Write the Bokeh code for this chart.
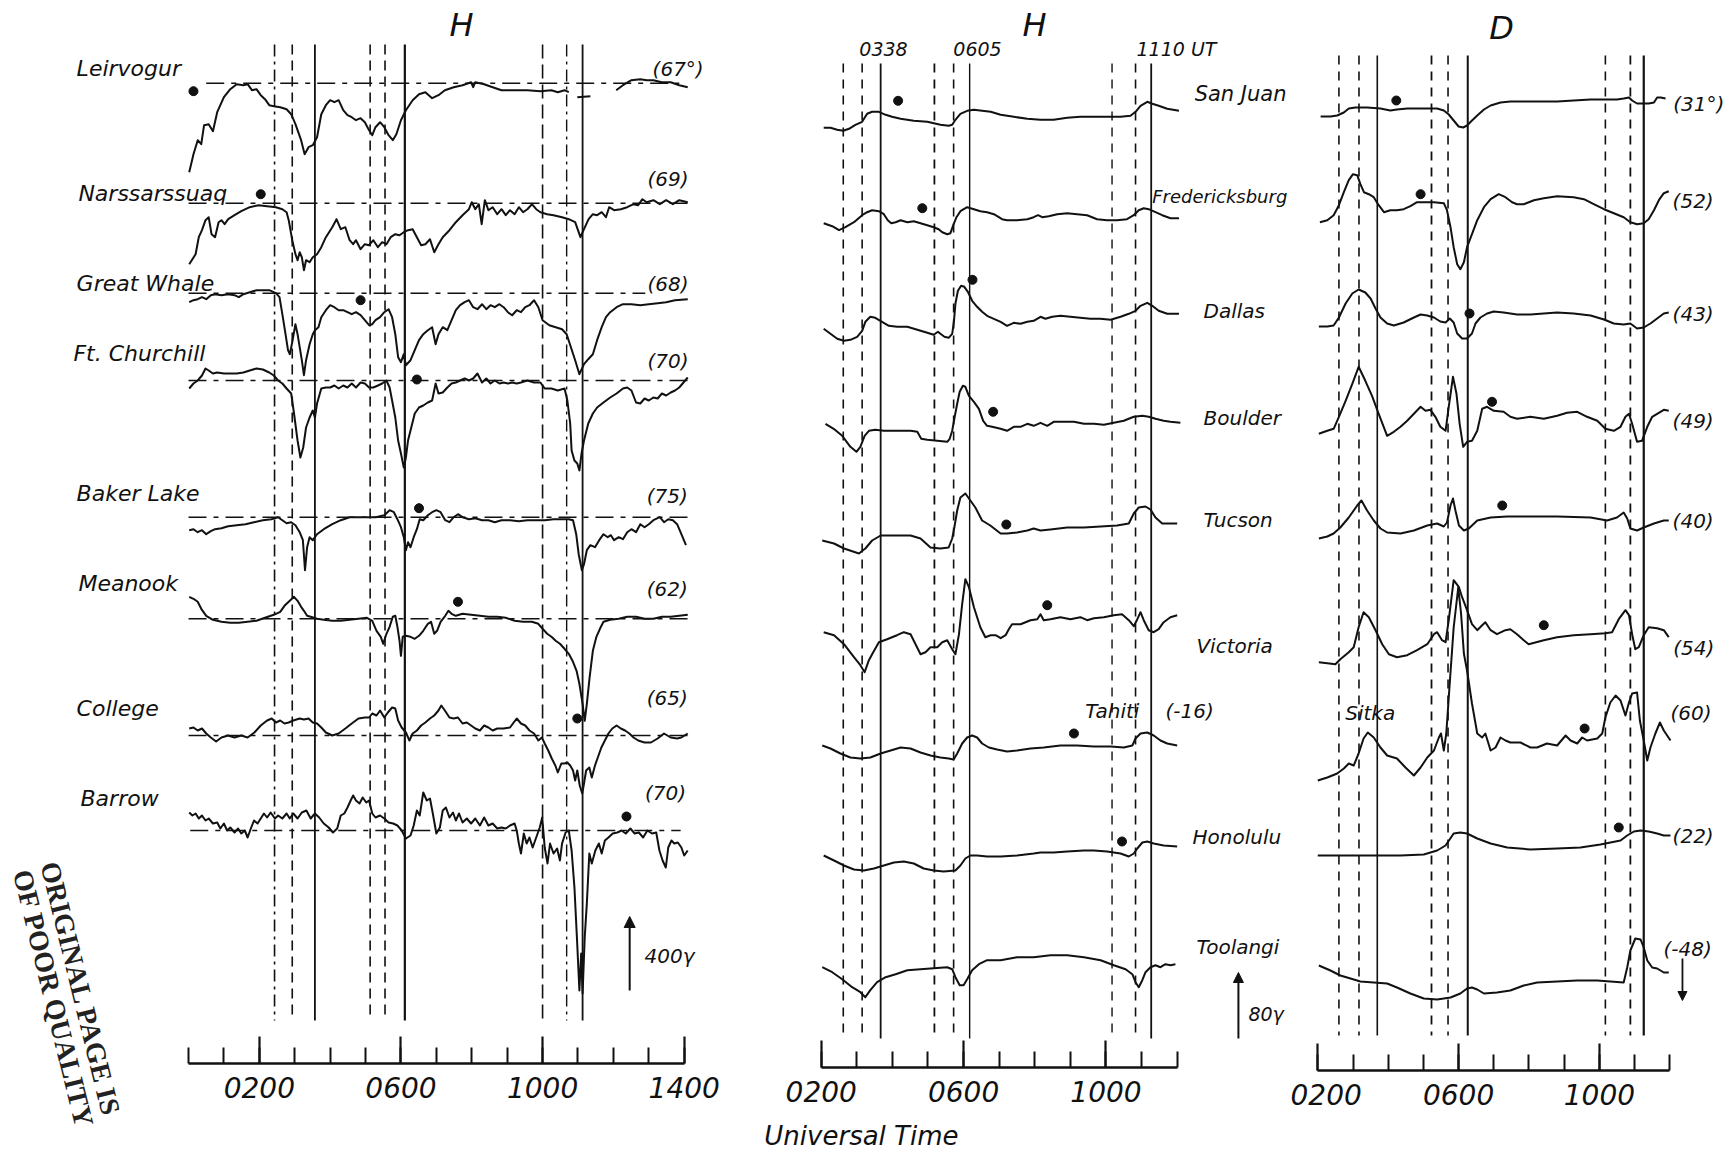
import math
from bokeh.plotting import figure
from bokeh.layouts import row
from bokeh.models import Range1d, FixedTicker, Arrow, NormalHead
from bokeh.core.properties import value
from bokeh.embed import file_html
from bokeh.resources import INLINE

NaN = float("nan")

# ---------------- DATA: (UT hours, deflection) ----------------
# Left panel, H component, high-latitude stations
leirvogur = [(0.02,-89),(0.14,-71),(0.26,-57),(0.36,-61),(0.44,-42),(0.57,-41),(0.69,-48),(0.81,-29),(1.0,-14),(1.18,-6),(1.36,-1),(1.55,-2),(1.67,-1),(1.79,-7),(1.92,-6),(2.04,-12),(2.16,-16),(2.28,-22),(2.41,-23),(2.59,-24),(2.77,-26),(2.9,-31),(3.02,-41),(3.18,-57),(3.28,-71),(3.39,-64),(3.51,-62),(3.63,-54),(3.75,-31),(3.88,-22),(4.0,-17),(4.12,-19),(4.24,-17),(4.37,-27),(4.49,-32),(4.61,-34),(4.73,-37),(4.86,-35),(4.98,-39),(5.1,-47),(5.19,-52),(5.28,-44),(5.41,-39),(5.53,-44),(5.65,-52),(5.77,-57),(5.87,-51),(6.0,-37),(6.14,-27),(6.33,-17),(6.51,-11),(6.69,-9),(6.88,-15),(7.06,-12),(7.24,-7),(7.49,-4),(7.74,-2),(7.98,1),(8.04,-4),(8.1,1),(8.35,-1),(8.59,-4),(8.84,-7),(9.21,-7),(9.57,-7),(9.94,-8),(10.25,-7),(10.43,-9),(10.62,-7),(10.74,-9),(NaN,NaN),(10.98,-14),(11.35,-13),(NaN,NaN),(12.08,-7),(12.27,-2),(12.51,3),(12.76,4),(12.94,3),(13.13,3),(13.37,1),(13.62,1),(13.86,-2),(14.1,-4)]
narssarssuaq = [(0.02,-61),(0.11,-56),(0.2,-51),(0.29,-34),(0.38,-27),(0.48,-17),(0.57,-14),(0.65,-31),(0.75,-34),(0.85,-19),(0.93,-17),(1.02,-21),(1.12,-16),(1.3,-12),(1.49,-8),(1.73,-4),(1.98,-2),(2.22,-3),(2.47,-4),(2.65,-6),(2.77,-9),(2.83,-17),(2.93,-37),(3.02,-51),(3.08,-57),(3.14,-49),(3.2,-54),(3.26,-67),(3.32,-57),(3.42,-59),(3.51,-54),(3.63,-51),(3.75,-44),(3.88,-34),(4.06,-24),(4.18,-16),(4.3,-26),(4.43,-24),(4.55,-37),(4.65,-41),(4.73,-37),(4.86,-46),(4.98,-41),(5.1,-42),(5.22,-37),(5.35,-44),(5.47,-39),(5.59,-41),(5.71,-34),(5.84,-31),(5.96,-32),(6.08,-29),(6.2,-27),(6.33,-26),(6.45,-34),(6.57,-42),(6.69,-41),(6.82,-36),(6.94,-49),(7.06,-41),(7.18,-34),(7.37,-27),(7.55,-19),(7.74,-12),(7.92,-6),(8.0,1),(8.1,-6),(8.2,-1),(8.28,-21),(8.37,3),(8.47,-7),(8.59,-4),(8.72,-11),(8.84,-6),(8.96,-12),(9.08,-7),(9.21,-11),(9.33,-4),(9.45,-9),(9.57,-6),(9.7,-1),(9.82,-6),(9.94,-9),(10.13,-11),(10.31,-12),(10.55,-14),(10.74,-16),(10.92,-19),(11.07,-34),(11.17,-26),(11.3,-16),(11.42,-11),(11.54,-12),(11.67,-9),(11.79,-14),(11.88,-4),(12.02,-7),(12.21,-6),(12.39,-4),(12.57,-1),(12.7,-2),(12.82,4),(12.94,1),(13.13,3),(13.31,-1),(13.49,3),(13.68,-1),(13.86,3),(14.1,1)]
great_whale = [(0.02,-9),(0.14,-7),(0.26,-6),(0.38,-4),(0.5,-6),(0.63,-2),(0.75,-1),(0.93,-2),(1.12,-1),(1.3,-2),(1.42,-4),(1.55,-1),(1.73,1),(1.92,3),(2.1,3),(2.28,3),(2.47,0),(2.57,-4),(2.65,-21),(2.74,-41),(2.81,-57),(2.86,-61),(2.93,-49),(3.02,-31),(3.08,-41),(3.14,-54),(3.2,-67),(3.26,-82),(3.32,-67),(3.42,-51),(3.51,-41),(3.57,-37),(3.67,-34),(3.75,-24),(3.88,-17),(4.0,-12),(4.12,-14),(4.24,-17),(4.37,-17),(4.49,-19),(4.61,-21),(4.73,-19),(4.86,-22),(4.98,-27),(5.1,-32),(5.19,-31),(5.28,-27),(5.41,-24),(5.53,-19),(5.65,-16),(5.75,-24),(5.84,-41),(5.92,-64),(6.0,-69),(6.08,-61),(6.14,-72),(6.27,-67),(6.39,-57),(6.51,-47),(6.63,-41),(6.76,-37),(6.88,-34),(6.98,-51),(7.06,-41),(7.18,-34),(7.31,-37),(7.43,-27),(7.55,-17),(7.67,-12),(7.8,-9),(7.92,-7),(8.04,-14),(8.16,-16),(8.29,-11),(8.41,-16),(8.53,-12),(8.65,-14),(8.78,-11),(8.9,-14),(9.02,-19),(9.14,-22),(9.27,-17),(9.39,-19),(9.51,-14),(9.63,-12),(9.76,-7),(9.88,-14),(10.0,-27),(10.19,-32),(10.37,-34),(10.55,-36),(10.68,-41),(10.8,-54),(10.92,-67),(11.04,-81),(11.17,-71),(11.29,-66),(11.42,-61),(11.54,-47),(11.67,-34),(11.79,-24),(11.91,-19),(12.09,-14),(12.27,-11),(12.51,-11),(12.76,-12),(13.0,-11),(13.25,-10),(13.49,-9),(13.74,-7),(14.1,-6)]
ft_churchill = [(0.02,-8),(0.14,-3),(0.26,0),(0.38,5),(0.48,12),(0.57,10),(0.69,7),(0.81,8),(1.0,7),(1.18,7),(1.36,7),(1.55,8),(1.73,10),(1.92,12),(2.1,11),(2.28,8),(2.41,5),(2.53,0),(2.65,-3),(2.77,-8),(2.9,-13),(2.98,-33),(3.08,-60),(3.16,-77),(3.24,-67),(3.32,-47),(3.42,-37),(3.51,-30),(3.57,-37),(3.63,-23),(3.75,-8),(3.88,-7),(4.0,-7),(4.12,-5),(4.24,-8),(4.37,-5),(4.49,-7),(4.61,-3),(4.73,-7),(4.86,-2),(4.98,-3),(5.1,-7),(5.22,-7),(5.35,-5),(5.47,-3),(5.59,0),(5.68,-7),(5.75,-20),(5.84,-37),(5.92,-60),(6.0,-73),(6.08,-87),(6.14,-77),(6.2,-60),(6.27,-50),(6.39,-33),(6.51,-27),(6.63,-25),(6.76,-22),(6.88,-20),(6.98,-3),(7.06,-13),(7.18,-12),(7.31,-7),(7.43,-3),(7.55,-2),(7.67,0),(7.8,2),(7.92,0),(8.04,2),(8.16,7),(8.29,-2),(8.41,2),(8.53,-3),(8.65,0),(8.78,-3),(8.9,-2),(9.02,-3),(9.14,-2),(9.27,-3),(9.39,-2),(9.57,0),(9.76,-2),(9.94,-2),(10.06,-8),(10.25,-8),(10.43,-10),(10.62,-8),(10.7,-20),(10.78,-43),(10.82,-70),(10.9,-80),(10.98,-83),(11.04,-90),(11.1,-73),(11.17,-60),(11.29,-43),(11.42,-33),(11.54,-27),(11.72,-22),(11.91,-17),(12.09,-13),(12.27,-8),(12.39,-7),(12.51,-10),(12.64,-22),(12.76,-23),(12.88,-18),(13.0,-20),(13.13,-17),(13.25,-18),(13.37,-13),(13.49,-15),(13.62,-12),(13.74,-10),(13.86,-7),(14.1,3)]
baker_lake = [(0.02,-13),(0.14,-12),(0.26,-15),(0.38,-13),(0.5,-17),(0.63,-14),(0.75,-12),(0.93,-11),(1.12,-9),(1.36,-8),(1.61,-7),(1.85,-5),(2.1,-3),(2.34,-2),(2.53,0),(2.65,-3),(2.77,-6),(2.9,-5),(3.02,-8),(3.14,-15),(3.23,-23),(3.29,-53),(3.35,-30),(3.42,-20),(3.51,-23),(3.63,-17),(3.82,-12),(4.06,-7),(4.3,-3),(4.55,0),(4.8,0),(5.04,0),(5.29,0),(5.53,2),(5.68,7),(5.8,5),(5.9,-2),(6.0,-10),(6.08,-20),(6.14,-33),(6.2,-25),(6.27,-30),(6.36,-20),(6.45,-12),(6.53,-2),(6.63,-3),(6.76,2),(6.88,5),(7.0,7),(7.12,5),(7.25,-3),(7.37,-5),(7.49,0),(7.61,3),(7.74,0),(7.92,-2),(8.1,-1),(8.29,-3),(8.47,-3),(8.65,-5),(8.84,-3),(9.08,-3),(9.33,-4),(9.57,-3),(9.82,-3),(10.06,-3),(10.31,-2),(10.55,-2),(10.74,-2),(10.86,-3),(10.95,-17),(11.02,-37),(11.11,-53),(11.17,-47),(11.25,-33),(11.35,-28),(11.48,-30),(11.6,-23),(11.72,-17),(11.84,-20),(11.93,-18),(12.02,-23),(12.15,-20),(12.27,-22),(12.39,-15),(12.51,-12),(12.64,-15),(12.76,-7),(12.88,-10),(13.0,-7),(13.13,-3),(13.31,0),(13.43,-5),(13.55,-2),(13.68,-3),(13.8,-7),(13.92,-17),(14.05,-28)]
meanook = [(0.02,22),(0.14,20),(0.26,17),(0.36,10),(0.5,3),(0.69,-1),(0.93,-3),(1.18,-4),(1.42,-4),(1.67,-3),(1.92,-2),(2.16,1),(2.41,4),(2.59,7),(2.71,13),(2.86,18),(2.98,22),(3.08,18),(3.18,12),(3.26,8),(3.35,3),(3.45,2),(3.63,0),(3.82,-1),(4.06,-2),(4.3,-2),(4.55,-1),(4.8,0),(5.04,1),(5.19,-2),(5.31,-12),(5.43,-18),(5.5,-25),(5.59,-15),(5.68,-8),(5.77,2),(5.84,3),(5.9,-8),(5.96,-22),(6.0,-37),(6.05,-18),(6.14,-17),(6.27,-18),(6.39,-20),(6.51,-17),(6.63,-12),(6.76,-5),(6.85,-3),(6.94,-15),(7.02,-12),(7.12,-3),(7.25,3),(7.34,8),(7.43,5),(7.55,3),(7.74,5),(7.98,4),(8.23,3),(8.47,2),(8.72,2),(8.96,1),(9.21,-2),(9.45,-3),(9.7,-3),(9.88,-5),(10.0,-10),(10.13,-15),(10.25,-18),(10.37,-22),(10.49,-25),(10.62,-30),(10.74,-35),(10.86,-43),(10.96,-52),(11.04,-65),(11.13,-85),(11.19,-102),(11.25,-85),(11.33,-58),(11.42,-32),(11.52,-18),(11.62,-10),(11.72,-3),(11.91,-1),(12.15,0),(12.39,2),(12.64,2),(12.88,0),(13.13,0),(13.37,2),(13.62,2),(13.86,3),(14.1,4)]
college = [(0.02,7),(0.14,8),(0.26,5),(0.38,7),(0.5,2),(0.63,-2),(0.78,-6),(0.93,-2),(1.12,0),(1.3,-2),(1.49,0),(1.67,-2),(1.86,3),(2.04,10),(2.22,15),(2.35,17),(2.47,13),(2.59,15),(2.71,12),(2.83,13),(2.96,15),(3.14,17),(3.26,16),(3.39,17),(3.51,13),(3.63,12),(3.75,8),(3.88,3),(4.06,0),(4.24,2),(4.43,7),(4.61,12),(4.8,17),(4.98,18),(5.1,18),(5.19,22),(5.31,20),(5.41,25),(5.53,18),(5.63,23),(5.75,28),(5.84,27),(5.92,15),(6.02,8),(6.14,3),(6.24,-5),(6.33,2),(6.45,5),(6.57,10),(6.69,13),(6.82,17),(6.94,20),(7.06,25),(7.14,30),(7.24,25),(7.37,18),(7.49,17),(7.61,18),(7.74,12),(7.86,13),(7.98,10),(8.1,7),(8.23,5),(8.35,10),(8.47,8),(8.59,5),(8.72,7),(8.9,7),(9.08,8),(9.27,17),(9.39,12),(9.51,10),(9.63,5),(9.76,2),(9.88,-5),(9.98,-2),(10.06,-8),(10.16,-15),(10.26,-23),(10.36,-30),(10.43,-37),(10.53,-28),(10.62,-28),(10.7,-27),(10.78,-30),(10.86,-35),(10.92,-45),(10.98,-35),(11.05,-50),(11.12,-58),(11.17,-48),(11.23,-35),(11.32,-32),(11.39,-42),(11.48,-30),(11.56,-22),(11.66,-12),(11.76,-5),(11.86,2),(11.97,7),(12.09,10),(12.21,7),(12.33,5),(12.45,2),(12.57,-2),(12.7,-5),(12.88,-7),(13.06,-7),(13.25,-3),(13.43,2),(13.62,-2),(13.8,-3),(13.92,-2),(14.1,2)]
barrow = [(0.02,18),(0.11,15),(0.2,17),(0.29,12),(0.38,15),(0.48,10),(0.57,12),(0.69,7),(0.81,8),(0.9,2),(1.0,7),(1.09,0),(1.18,3),(1.3,-2),(1.4,2),(1.49,-3),(1.59,0),(1.67,-7),(1.76,2),(1.85,10),(1.95,7),(2.04,12),(2.13,17),(2.22,13),(2.32,18),(2.44,12),(2.53,15),(2.65,12),(2.77,17),(2.86,12),(2.96,17),(3.08,12),(3.2,18),(3.33,20),(3.45,12),(3.57,17),(3.69,13),(3.82,7),(3.96,3),(4.08,-2),(4.2,2),(4.3,15),(4.4,17),(4.49,23),(4.58,30),(4.65,35),(4.73,30),(4.83,27),(4.92,33),(5.02,28),(5.1,30),(5.19,17),(5.28,13),(5.41,15),(5.53,12),(5.65,8),(5.78,7),(5.9,5),(6.02,0),(6.14,-8),(6.27,-5),(6.36,5),(6.45,20),(6.53,15),(6.63,38),(6.73,30),(6.82,32),(6.9,17),(7.0,-3),(7.1,3),(7.18,20),(7.27,23),(7.37,13),(7.47,18),(7.55,10),(7.64,17),(7.74,8),(7.86,12),(7.98,7),(8.1,12),(8.23,5),(8.35,13),(8.47,5),(8.59,7),(8.72,2),(8.84,3),(8.96,2),(9.08,5),(9.21,7),(9.27,0),(9.33,-13),(9.39,-23),(9.47,-3),(9.55,-13),(9.63,-7),(9.72,-17),(9.82,-7),(9.92,3),(9.99,13),(10.06,-17),(10.14,-33),(10.21,-13),(10.31,-23),(10.41,-18),(10.49,-30),(10.55,-13),(10.65,-2),(10.74,0),(10.82,-20),(10.9,-57),(10.97,-107),(11.04,-160),(11.09,-123),(11.13,-163),(11.19,-107),(11.25,-73),(11.32,-23),(11.39,-33),(11.49,-20),(11.59,-13),(11.67,-23),(11.76,-10),(11.86,-7),(11.98,-3),(12.11,-2),(12.23,0),(12.35,-3),(12.48,2),(12.6,-3),(12.72,-2),(12.84,-7),(12.96,0),(13.09,-3),(13.21,-2),(13.3,-20),(13.39,-30),(13.48,-37),(13.55,-17),(13.64,-10),(13.72,-13),(13.82,-12),(13.92,-17),(14.0,-25),(14.1,-20)]

left_names = ["Leirvogur", "Narssarssuaq", "Great Whale", "Ft. Churchill", "Baker Lake", "Meanook", "College", "Barrow"]
left_lats = ["(67°)", "(69)", "(68)", "(70)", "(75)", "(62)", "(65)", "(70)"]
left_dot_t = [0.14, 2.04, 4.86, 6.45, 6.51, 7.61, 10.98, 12.37]
left_dot_v = [-8, 9, -7, 1, 9, 17, 17, 14]
left_line_t = [2.43, 2.93, 3.57, 5.13, 5.55, 6.11, 10.0, 10.68, 11.13]

# Middle panel, H component, mid/low-latitude stations
san_juan_h = [(2.07,0),(2.26,0),(2.45,-2),(2.62,-3),(2.78,-1),(2.96,3),(3.15,6),(3.29,14),(3.43,16),(3.62,16),(3.81,13),(3.99,11),(4.23,9),(4.6,7),(4.98,6),(5.35,3),(5.58,2),(5.68,3),(5.77,8),(5.91,14),(6.1,17),(6.29,18),(6.52,17),(6.76,16),(7.04,13),(7.41,11),(7.79,9),(8.16,8),(8.53,8),(8.91,10),(9.28,11),(9.66,11),(10.03,11),(10.41,11),(10.69,12),(10.83,16),(10.97,22),(11.16,26),(11.3,24),(11.48,22),(11.72,19),(12.05,17)]
fredericksburg_h = [(2.07,0),(2.31,-3),(2.5,-7),(2.68,-4),(2.92,1),(3.15,8),(3.29,11),(3.43,13),(3.62,12),(3.76,9),(3.87,3),(3.97,0),(4.09,1),(4.23,3),(4.42,1),(4.6,2),(4.79,0),(4.98,-2),(5.16,-4),(5.3,-6),(5.4,-9),(5.54,-11),(5.63,-10),(5.71,-2),(5.8,6),(5.91,12),(6.1,16),(6.29,14),(6.47,12),(6.66,11),(6.85,9),(6.99,6),(7.08,4),(7.22,3),(7.5,3),(7.79,4),(7.97,6),(8.09,8),(8.21,6),(8.39,7),(8.63,9),(8.91,10),(9.19,9),(9.47,8),(9.75,4),(10.03,3),(10.31,3),(10.59,4),(10.78,8),(10.92,13),(11.06,15),(11.2,14),(11.39,11),(11.58,8),(11.81,5),(12.05,5)]
dallas_h = [(2.07,0),(2.26,-5),(2.45,-10),(2.64,-12),(2.82,-11),(3.01,-8),(3.15,-2),(3.24,7),(3.38,12),(3.52,11),(3.71,7),(3.9,3),(4.13,2),(4.42,2),(4.7,-1),(4.98,-4),(5.16,-6),(5.28,-3),(5.35,-5),(5.46,-8),(5.58,-9),(5.68,-5),(5.73,8),(5.77,25),(5.84,38),(5.93,43),(6.02,42),(6.12,37),(6.24,28),(6.38,22),(6.52,17),(6.66,13),(6.85,10),(7.04,7),(7.22,3),(7.41,6),(7.6,5),(7.79,7),(7.97,8),(8.16,12),(8.3,10),(8.49,12),(8.72,13),(9.0,12),(9.28,11),(9.56,10),(9.84,10),(10.13,9),(10.41,12),(10.64,15),(10.83,18),(10.97,23),(11.16,26),(11.3,23),(11.48,18),(11.72,15),(12.05,15)]
boulder_h = [(2.12,0),(2.35,-5),(2.59,-12),(2.82,-23),(2.99,-28),(3.1,-23),(3.22,-12),(3.34,-7),(3.52,-6),(3.76,-7),(4.13,-7),(4.51,-7),(4.7,-8),(4.81,-15),(4.98,-16),(5.26,-17),(5.54,-18),(5.61,-15),(5.68,-7),(5.75,7),(5.82,20),(5.89,32),(5.98,38),(6.05,37),(6.15,28),(6.29,22),(6.43,15),(6.55,3),(6.66,-2),(6.8,-3),(7.04,-5),(7.22,-7),(7.41,-3),(7.6,-3),(7.79,0),(7.97,-2),(8.16,1),(8.35,-2),(8.53,2),(8.81,2),(9.1,2),(9.38,0),(9.66,0),(9.94,-1),(10.22,1),(10.5,3),(10.78,7),(11.02,8),(11.2,7),(11.39,5),(11.62,3),(11.81,2),(12.09,1)]
tucson_h = [(2.03,0),(2.36,-3),(2.64,-8),(3.06,-13),(3.24,-8),(3.43,0),(3.67,5),(4.04,5),(4.51,5),(4.79,2),(5.07,-7),(5.35,-8),(5.58,-7),(5.68,2),(5.74,13),(5.82,30),(5.91,43),(6.05,47),(6.19,40),(6.33,33),(6.52,20),(6.75,15),(7.04,7),(7.22,7),(7.5,8),(7.79,10),(7.97,12),(8.16,10),(8.44,11),(8.91,13),(9.38,13),(9.85,14),(10.31,15),(10.64,17),(10.78,27),(10.92,33),(11.11,34),(11.25,31),(11.39,23),(11.58,17),(12.0,17)]
victoria_h = [(2.07,0),(2.36,-3),(2.64,-12),(2.92,-25),(3.1,-33),(3.22,-40),(3.34,-28),(3.43,-22),(3.62,-10),(3.85,-7),(4.13,-3),(4.32,0),(4.51,-2),(4.65,-12),(4.79,-22),(4.93,-20),(5.07,-15),(5.26,-15),(5.4,-10),(5.54,-8),(5.68,-17),(5.77,-22),(5.87,-2),(5.96,28),(6.05,53),(6.15,45),(6.29,25),(6.47,5),(6.61,-5),(6.76,-3),(6.9,-3),(7.04,-6),(7.18,-3),(7.27,3),(7.36,8),(7.6,8),(7.88,12),(8.07,13),(8.16,18),(8.25,12),(8.44,13),(8.72,15),(9.0,13),(9.28,15),(9.47,12),(9.66,14),(9.94,15),(10.22,17),(10.45,18),(10.64,12),(10.78,6),(10.88,13),(10.97,20),(11.06,12),(11.2,2),(11.34,0),(11.48,3),(11.62,10),(11.81,15),(12.0,17)]
tahiti_h = [(2.03,0),(2.26,-3),(2.54,-8),(2.82,-12),(3.1,-13),(3.38,-12),(3.67,-8),(3.95,-5),(4.23,-2),(4.51,-3),(4.79,-7),(5.07,-10),(5.35,-12),(5.58,-13),(5.72,-14),(5.82,-8),(5.96,2),(6.1,8),(6.24,10),(6.38,8),(6.52,2),(6.71,-2),(6.94,-4),(7.22,-6),(7.5,-5),(7.88,-3),(8.25,-2),(8.72,0),(9.19,0),(9.66,-1),(10.13,-1),(10.5,-2),(10.74,0),(10.83,7),(10.97,12),(11.16,13),(11.34,10),(11.53,5),(11.72,2),(12.0,0)]
honolulu_h = [(2.07,0),(2.36,-5),(2.64,-10),(2.92,-14),(3.2,-15),(3.48,-13),(3.76,-10),(4.04,-7),(4.32,-6),(4.6,-8),(4.88,-13),(5.16,-15),(5.44,-16),(5.77,-15),(5.91,-10),(6.05,-3),(6.19,0),(6.38,0),(6.66,-1),(7.04,-1),(7.5,0),(7.97,2),(8.16,3),(8.53,3),(8.91,4),(9.38,5),(9.66,5),(10.03,4),(10.41,2),(10.64,-1),(10.78,2),(10.88,7),(11.02,13),(11.16,14),(11.34,12),(11.62,10),(12.0,9)]
toolangi_h = [(2.03,0),(2.31,-5),(2.59,-12),(2.87,-20),(3.1,-25),(3.24,-30),(3.38,-23),(3.57,-15),(3.81,-10),(4.09,-7),(4.42,-3),(4.79,-2),(5.16,-1),(5.54,0),(5.68,-2),(5.77,-10),(5.89,-18),(6.0,-18),(6.1,-12),(6.24,-3),(6.43,3),(6.66,7),(7.04,7),(7.5,10),(7.97,10),(8.44,12),(8.91,12),(9.38,10),(9.85,7),(10.22,2),(10.55,-2),(10.74,-7),(10.83,-15),(10.92,-20),(11.02,-13),(11.11,-5),(11.25,0),(11.39,2),(11.53,0),(11.67,3),(11.81,2),(11.95,3)]

mid_names = ["San Juan", "Fredericksburg", "Dallas", "Boulder", "Tucson", "Victoria", "Tahiti", "Honolulu", "Toolangi"]
mid_dot_t = [4.16, 4.84, 6.25, 6.83, 7.2, 8.35, 9.1, 10.45]
mid_dot_v = [27, 15, 49, 12, 16, 27, 12, 14]
mid_line_t = [2.62, 3.15, 3.67, 5.18, 5.72, 6.17, 10.17, 10.83, 11.27]
event_labels = ["0338", "0605", "1110 UT"]

# Right panel, D component
san_juan_d = [(2.08,0),(2.36,0),(2.55,1),(2.74,4),(2.88,8),(3.07,9),(3.4,9),(3.78,8),(4.06,6),(4.25,7),(4.54,8),(4.82,8),(5.11,8),(5.39,8),(5.58,6),(5.72,2),(5.86,-4),(6.0,-10),(6.13,-11),(6.24,-9),(6.38,-4),(6.53,1),(6.72,7),(6.91,11),(7.19,14),(7.47,15),(7.85,15),(8.33,15),(8.8,15),(9.27,16),(9.75,17),(10.13,17),(10.5,17),(10.69,18),(10.84,19),(10.93,16),(11.07,13),(11.26,13),(11.4,13),(11.55,14),(11.64,19),(11.74,19),(11.88,18)]
fredericksburg_d = [(2.06,0),(2.27,2),(2.45,7),(2.6,17),(2.74,30),(2.88,42),(3.0,48),(3.12,47),(3.21,38),(3.31,30),(3.45,28),(3.59,25),(3.73,17),(3.88,10),(4.06,12),(4.25,12),(4.44,13),(4.63,16),(4.82,20),(5.01,20),(5.3,20),(5.58,19),(5.67,12),(5.77,-5),(5.86,-25),(5.96,-42),(6.05,-47),(6.15,-40),(6.24,-25),(6.38,-12),(6.53,2),(6.72,15),(6.91,23),(7.14,28),(7.33,25),(7.52,20),(7.66,18),(7.85,18),(8.14,22),(8.42,24),(8.8,26),(9.27,25),(9.56,23),(9.84,18),(10.13,13),(10.41,9),(10.69,5),(10.88,0),(11.07,-2),(11.26,-1),(11.4,3),(11.55,12),(11.69,22),(11.83,29),(11.97,31)]
dallas_d = [(2.03,0),(2.27,0),(2.45,1),(2.6,9),(2.79,23),(2.98,33),(3.16,37),(3.35,34),(3.5,28),(3.64,18),(3.78,9),(3.97,3),(4.16,1),(4.44,4),(4.73,9),(4.92,12),(5.11,11),(5.3,9),(5.48,5),(5.63,4),(5.75,8),(5.86,4),(5.96,-7),(6.1,-12),(6.24,-12),(6.38,-7),(6.48,3),(6.62,9),(6.81,13),(7.0,15),(7.28,14),(7.66,12),(8.04,12),(8.42,13),(8.8,14),(9.27,13),(9.75,11),(10.13,7),(10.41,3),(10.69,2),(10.88,3),(11.07,-2),(11.26,-1),(11.45,3),(11.64,8),(11.83,13),(11.97,14)]
boulder_d = [(2.03,0),(2.27,3),(2.45,5),(2.6,17),(2.79,33),(2.98,50),(3.16,67),(3.35,53),(3.54,38),(3.73,20),(3.97,-2),(4.16,2),(4.35,7),(4.54,13),(4.73,20),(4.92,27),(5.06,23),(5.2,24),(5.34,17),(5.48,7),(5.63,3),(5.72,27),(5.84,57),(5.94,40),(6.03,10),(6.13,-13),(6.24,-8),(6.38,-7),(6.53,3),(6.67,25),(6.81,27),(7.0,23),(7.28,22),(7.47,17),(7.66,15),(8.04,17),(8.42,15),(8.8,18),(9.08,21),(9.37,22),(9.65,17),(9.94,13),(10.17,5),(10.41,3),(10.6,7),(10.74,17),(10.84,20),(10.93,10),(11.07,-8),(11.21,-7),(11.36,7),(11.5,17),(11.64,20),(11.83,24),(11.97,23)]
tucson_d = [(2.03,0),(2.27,2),(2.45,5),(2.64,11),(2.88,21),(3.12,33),(3.24,38),(3.4,28),(3.59,18),(3.78,10),(3.97,6),(4.35,5),(4.73,8),(5.11,13),(5.39,15),(5.58,12),(5.67,16),(5.77,33),(5.84,40),(5.91,28),(6.01,13),(6.15,8),(6.29,10),(6.53,18),(6.91,21),(7.38,22),(7.85,22),(8.8,22),(9.75,21),(10.22,18),(10.5,21),(10.69,26),(10.79,20),(10.88,10),(11.07,8),(11.26,11),(11.55,15),(11.83,18),(11.97,18)]
victoria_d = [(2.03,0),(2.27,-1),(2.5,-2),(2.64,3),(2.88,10),(3.02,15),(3.16,35),(3.3,50),(3.45,45),(3.64,32),(3.83,18),(4.02,8),(4.25,5),(4.54,7),(4.82,12),(5.11,18),(5.3,28),(5.39,30),(5.53,22),(5.63,20),(5.72,42),(5.86,82),(6.01,75),(6.1,65),(6.24,52),(6.38,38),(6.53,32),(6.67,37),(6.76,40),(6.91,32),(7.09,28),(7.33,32),(7.47,33),(7.66,28),(7.85,22),(7.99,18),(8.42,22),(8.8,25),(9.27,27),(9.75,28),(10.17,29),(10.36,30),(10.55,43),(10.74,52),(10.84,47),(10.93,28),(11.02,13),(11.12,15),(11.26,27),(11.4,35),(11.64,34),(11.83,32),(11.97,25)]
sitka_d = [(2.0,0),(2.27,3),(2.55,7),(2.74,12),(2.88,17),(3.02,15),(3.16,27),(3.3,42),(3.42,48),(3.59,43),(3.78,33),(3.97,25),(4.25,22),(4.49,13),(4.73,5),(4.92,13),(5.11,23),(5.3,30),(5.44,43),(5.5,47),(5.58,30),(5.65,47),(5.74,93),(5.86,153),(5.99,193),(6.07,167),(6.15,127),(6.24,110),(6.38,77),(6.53,47),(6.67,43),(6.76,47),(6.91,30),(7.05,33),(7.19,43),(7.33,40),(7.47,38),(7.76,38),(8.04,33),(8.23,33),(8.51,37),(8.8,35),(9.04,45),(9.18,40),(9.37,37),(9.51,43),(9.65,40),(9.94,42),(10.08,47),(10.17,63),(10.31,78),(10.46,85),(10.6,80),(10.74,65),(10.84,78),(10.93,87),(11.07,88),(11.15,60),(11.26,40),(11.36,20),(11.45,33),(11.59,47),(11.72,58),(11.83,50),(12.02,40)]
honolulu_d = [(2.0,0),(2.64,0),(3.59,0),(4.35,0),(5.01,1),(5.39,5),(5.63,10),(5.86,22),(6.05,23),(6.24,22),(6.53,17),(6.91,12),(7.38,8),(8.04,6),(8.8,7),(9.46,8),(10.03,11),(10.6,15),(10.79,20),(10.98,24),(11.17,25),(11.4,24),(11.64,22),(11.83,20),(12.02,20)]
toolangi_d = [(2.03,0),(2.36,-5),(2.64,-10),(2.93,-13),(3.21,-16),(3.59,-17),(3.97,-18),(4.25,-22),(4.63,-28),(5.01,-33),(5.39,-34),(5.77,-32),(6.05,-28),(6.24,-23),(6.38,-22),(6.53,-24),(6.72,-28),(7.09,-27),(7.47,-25),(7.85,-20),(8.23,-17),(8.8,-16),(9.37,-15),(9.94,-15),(10.31,-16),(10.69,-17),(10.79,-2),(10.88,15),(11.02,27),(11.17,26),(11.26,18),(11.36,5),(11.5,-2),(11.64,-3),(11.83,-7),(11.97,-7)]

right_lats = ["(31°)", "(52)", "(43)", "(49)", "(40)", "(54)", "(60)", "(22)", "(-48)"]
right_dot_t = [4.23, 4.92, 6.31, 6.95, 7.24, 8.42, 9.58, 10.55]
right_dot_v = [16, 28, 13, 32, 33, 37, 52, 28]
right_line_t = [2.6, 3.17, 3.69, 5.23, 5.7, 6.26, 10.17, 10.88, 11.26]

tick_labels = {2: "0200", 6: "0600", 10: "1000", 14: "1400"}
stamp_lines = ["ORIGINAL PAGE IS", "OF POOR QUALITY"]

# ---------------- LAYOUT / STYLE ----------------
FONT = "DejaVu Sans"
INK = "#111111"
H = 1151


def panel(width, xr, axis_row, bounds, majors, minors):
    p = figure(width=width, height=H, x_range=Range1d(*xr), y_range=Range1d(H, 0),
               output_backend="svg", toolbar_location=None, y_axis_location=None,
               min_border_left=0, min_border_right=0, min_border_top=0, min_border_bottom=0)
    p.outline_line_color = None
    p.grid.visible = False
    p.background_fill_color = "white"
    p.border_fill_color = "white"
    ax = p.xaxis[0]
    ax.fixed_location = axis_row
    ax.bounds = bounds
    ax.ticker = FixedTicker(ticks=majors, minor_ticks=minors)
    ax.major_label_overrides = {k: v for k, v in tick_labels.items() if k in majors}
    ax.major_tick_in = 27
    ax.major_tick_out = 0
    ax.minor_tick_in = 16
    ax.minor_tick_out = 0
    ax.axis_line_width = 2.5
    ax.axis_line_color = INK
    ax.major_tick_line_width = 2.2
    ax.minor_tick_line_width = 2
    ax.major_tick_line_color = INK
    ax.minor_tick_line_color = INK
    ax.major_label_text_font = FONT
    ax.major_label_text_font_style = "italic"
    ax.major_label_text_font_size = "28px"
    ax.major_label_text_color = INK
    ax.major_label_standoff = 13
    return p


def draw_trace(p, pairs, base):
    xs = [t for t, _ in pairs]
    ys = [base - v if not math.isnan(v) else NaN for _, v in pairs]
    p.line(xs, ys, line_color=INK, line_width=2.0, line_join="round")


def vlines(p, times, top, bottom, dashes, widths):
    for t, d, w in zip(times, dashes, widths):
        p.segment(x0=[t], y0=[top], x1=[t], y1=[bottom], line_color=INK, line_width=w, line_dash=d)


def texts(p, xs, ys, labels, size, align="left", style="italic", font=FONT, angle=0.0,
          baseline="middle", color=INK):
    p.text(x=xs, y=ys, text=labels, text_font=value(font), text_font_style=style,
           text_font_size=size, text_align=align, text_baseline=baseline, text_color=color,
           angle=angle)


# ---------- Left panel ----------
pL = panel(740, (-5.31, 15.59), 1063, (0, 14), [2, 6, 10, 14], list(range(0, 15)))
left_series = [leirvogur, narssarssuaq, great_whale, ft_churchill, baker_lake, meanook, college, barrow]
left_base = [82.7, 202.7, 292.7, 380, 516.7, 618.3, 735, 830]
left_base_span = [(0.5, 13.86), (0.0, 14.1), (0.0, 12.9), (0.0, 14.1), (0.0, 14.1), (0.0, 14.1), (0.0, 14.1), (0.05, 13.9)]
left_dash = ["12 5 3 5", "10 6", "solid", "10 6", "10 6", "solid", "14 6", "12 5 3 5", "solid"]
left_w = [1.6, 1.6, 1.8, 1.6, 1.6, 2.2, 1.6, 1.4, 1.8]
vlines(pL, left_line_t, 44, 1020, left_dash, left_w)
for (a, b), r in zip(left_base_span, left_base):
    pL.segment(x0=[a], y0=[r], x1=[b], y1=[r], line_color=INK, line_width=1.6, line_dash="18 7 5 7")
for s, b in zip(left_series, left_base):
    draw_trace(pL, s, b)
pL.scatter(left_dot_t, [b - v for b, v in zip(left_base, left_dot_v)], size=9, color=INK)
left_label_x = [-3.16, -3.11, -3.16, -3.25, -3.16, -3.11, -3.16, -3.05]
left_label_row = [68, 193, 283, 353, 493, 583, 708, 798]
texts(pL, left_label_x, left_label_row, left_names, "22px")
left_lat_x = [14.55, 14.12, 14.12, 14.12, 14.1, 14.1, 14.1, 14.05]
left_lat_row = [68, 178, 283, 360, 495, 588, 697, 792]
texts(pL, left_lat_x, left_lat_row, left_lats, "20px", align="right")
texts(pL, [7.71], [24], ["H"], "32px", align="center")
pL.add_layout(Arrow(end=NormalHead(size=11, fill_color=INK, line_color=INK), x_start=12.46, y_start=990,
                    x_end=12.46, y_end=916, line_width=2, line_color=INK))
texts(pL, [12.88], [955], ["400γ"], "20px")
texts(pL, [-3.5, -4.28], [858, 866], stamp_lines, "28px", style="bold", font="Liberation Serif",
      angle=-1.33, baseline="top", color="#222222")

# ---------- Middle panel ----------
pM = panel(550, (-0.267, 15.183), 1067, (2, 12), [2, 6, 10], list(range(2, 13)))
mid_series = [san_juan_h, fredericksburg_h, dallas_h, boulder_h, tucson_h, victoria_h, tahiti_h, honolulu_h, toolangi_h]
mid_base = [127.3, 222.7, 328.3, 423.3, 540, 631.7, 745, 855, 966.7]
mid_dash = ["9 7", "9 7", "solid", "9 7", "9 7", "solid", "9 7", "9 7", "solid"]
mid_w = [1.6, 1.6, 1.8, 1.8, 1.6, 1.4, 1.4, 1.6, 1.8]
vlines(pM, mid_line_t, 63, 1038, mid_dash, mid_w)
for s, b in zip(mid_series, mid_base):
    draw_trace(pM, s, b)
pM.scatter(mid_dot_t, [b - v for b, v in zip(mid_base, mid_dot_v)], size=9, color=INK)
mid_label_x = [12.49, 11.3, 12.74, 12.74, 12.74, 12.54, 9.42, 12.43, 12.54]
mid_label_row = [93, 196, 310, 417, 519, 645, 710, 836, 946]
mid_label_size = ["21px", "18px", "20px", "20px", "20px", "20px", "20px", "20px", "20px"]
for x, y, t, s in zip(mid_label_x, mid_label_row, mid_names, mid_label_size):
    texts(pM, [x], [y], [t], s)
texts(pM, [11.67], [710], ["(-16)"], "20px")
texts(pM, [7.99], [24], ["H"], "32px", align="center")
texts(pM, [3.75, 6.39, 11.98], [48, 48, 48], event_labels, "19px", align="center")
pM.add_layout(Arrow(end=NormalHead(size=10, fill_color=INK, line_color=INK), x_start=13.72, y_start=1038,
                    x_end=13.72, y_end=972, line_width=2, line_color=INK))
texts(pM, [14.0], [1013], ["80γ"], "19px")
texts(pM, [3.13], [1135], ["Universal Time"], "26px", align="center")

# ---------- Right panel ----------
pR = panel(441, (1.2244, 13.753), 1070, (2, 12), [2, 6, 10], list(range(2, 13)))
right_series = [san_juan_d, fredericksburg_d, dallas_d, boulder_d, tucson_d, victoria_d, sitka_d, honolulu_d, toolangi_d]
right_base = [116, 221.7, 326, 433.3, 538, 661.7, 780, 855, 965]
right_dash = ["9 7", "9 7", "solid", "9 7", "9 7", "solid", "9 7", "9 7", "solid"]
right_w = [1.6, 1.6, 1.6, 1.8, 1.6, 2.0, 1.6, 1.8, 2.2]
vlines(pR, right_line_t, 55, 1035, right_dash, right_w)
for s, b in zip(right_series, right_base):
    draw_trace(pR, s, b)
pR.scatter(right_dot_t, [b - v for b, v in zip(right_base, right_dot_v)], size=9, color=INK)
right_lat_x = [12.1, 12.08, 12.08, 12.08, 12.08, 12.1, 12.02, 12.08, 11.82]
right_lat_row = [103, 200, 313, 420, 520, 647, 712, 835, 948]
texts(pR, right_lat_x, right_lat_row, right_lats, "20px")
texts(pR, [2.78], [712], ["Sitka"], "20px")
texts(pR, [7.22], [27], ["D"], "32px", align="center")
pR.add_layout(Arrow(end=NormalHead(size=9, fill_color=INK, line_color=INK), x_start=12.36, y_start=958,
                    x_end=12.36, y_end=1000, line_width=1.8, line_color=INK))

layout = row(pL, pM, pR, spacing=0)
open("out.html", "w").write(file_html(layout, INLINE))
